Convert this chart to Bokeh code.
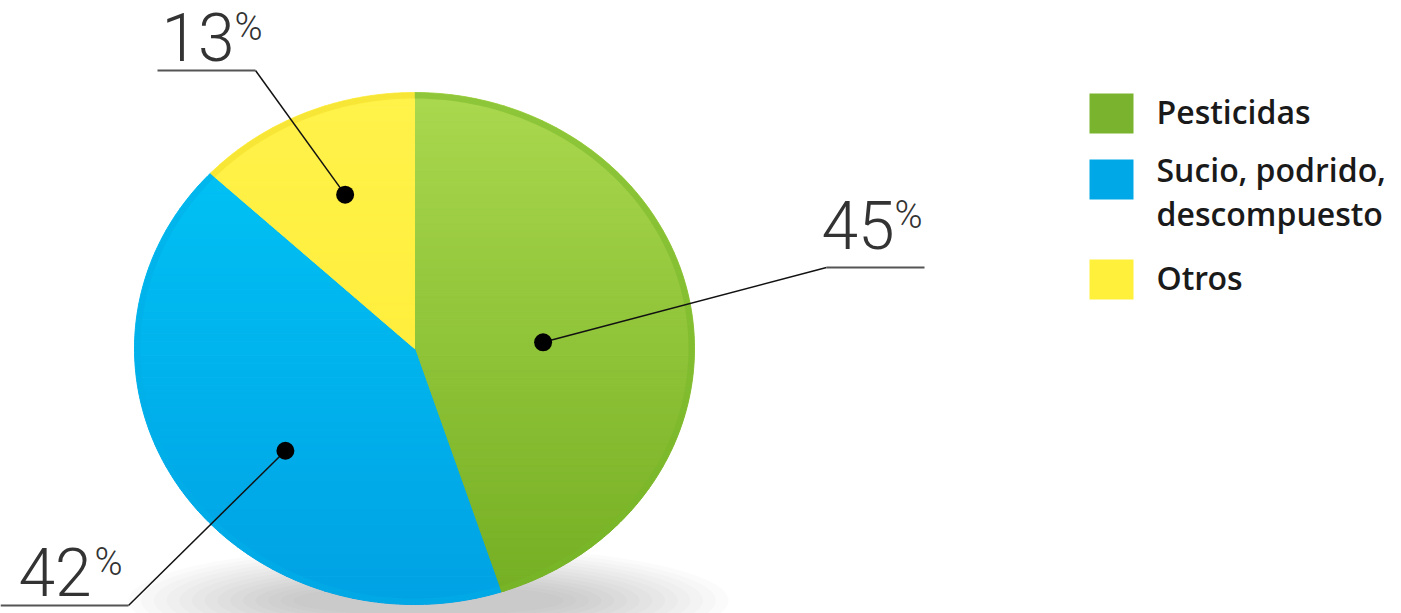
import numpy as np
from bokeh.plotting import figure
from bokeh.models import Range1d, ColumnDataSource
from bokeh.core.properties import value
from bokeh.embed import file_html
from bokeh.resources import INLINE

# ---------------- data ----------------
categories = ["Pesticidas", "Sucio, podrido, descompuesto", "Otros"]
legend_lines = [["Pesticidas"], ["Sucio, podrido,", "descompuesto"], ["Otros"]]
values = [45, 42, 13]
pct_labels = ["45", "42", "13"]

# ---------------- style ----------------
top_colors = ["#aad84e", "#00c6f6", "#fff24a"]
bot_colors = ["#74ae22", "#00a2e4", "#ffea30"]
rim_colors = ["#78b82a", "#00aee8", "#f2dc28"]
legend_colors = ["#7ab32e", "#00a8e8", "#fff03c"]

W, H = 1401, 613
CX, CY, RX, RY = 414, 348, 280, 256

p = figure(width=W, height=H, output_backend="svg", toolbar_location=None,
           x_range=Range1d(0, W), y_range=Range1d(H, 0), min_border=0)
p.axis.visible = False
p.grid.visible = False
p.outline_line_color = None
p.background_fill_color = "white"
p.border_fill_color = "white"

# ---------------- shadow ----------------
n_sh = 14
for k in range(n_sh):
    f = k / (n_sh - 1)
    p.ellipse(x=[CX + 14], y=[CY + RY - 4], width=600 - 330 * f, height=110 - 80 * f,
              fill_color="#444444", fill_alpha=0.022, line_color=None)


def hex2rgb(h):
    h = h.lstrip("#")
    return np.array([int(h[i:i + 2], 16) for i in (0, 2, 4)], dtype=float)


def rgb2hex(c):
    c = np.clip(np.round(c), 0, 255).astype(int)
    return "#%02x%02x%02x" % tuple(c)


def clip_band(poly, y0, y1):
    def clip(pts, keep, inter):
        out = []
        n = len(pts)
        for i in range(n):
            a = pts[i]
            b = pts[(i + 1) % n]
            ka, kb = keep(a), keep(b)
            if ka:
                out.append(a)
                if not kb:
                    out.append(inter(a, b))
            elif kb:
                out.append(inter(a, b))
        return out

    def inter_y(yc):
        def f(a, b):
            t = (yc - a[1]) / (b[1] - a[1])
            return (a[0] + t * (b[0] - a[0]), yc)
        return f

    pts = clip(poly, lambda q: q[1] >= y0, inter_y(y0))
    if not pts:
        return []
    pts = clip(pts, lambda q: q[1] <= y1, inter_y(y1))
    return pts


total = float(sum(values))
angles = [90.0]
for v in values:
    angles.append(angles[-1] - 360.0 * v / total)

xs_all, ys_all, cols_all = [], [], []
rim_xs, rim_ys = [], []
NB = 70
band_edges = np.linspace(CY - RY - 1, CY + RY + 1, NB + 1)
for i in range(len(values)):
    a0, a1 = angles[i], angles[i + 1]
    th = np.radians(np.linspace(a0, a1, 200))
    poly = [(CX, CY)] + [(CX + RX * np.cos(t), CY - RY * np.sin(t)) for t in th]
    c0, c1 = hex2rgb(top_colors[i]), hex2rgb(bot_colors[i])
    for b in range(NB):
        y0, y1 = band_edges[b], band_edges[b + 1]
        pts = clip_band(poly, y0, y1)
        if len(pts) < 3:
            continue
        f = ((y0 + y1) / 2 - (CY - RY)) / (2 * RY)
        xs_all.append([q[0] for q in pts])
        ys_all.append([q[1] for q in pts])
        cols_all.append(rgb2hex(c0 + (c1 - c0) * f))
    rim_xs.append(list(CX + (RX - 3) * np.cos(th)))
    rim_ys.append(list(CY - (RY - 3) * np.sin(th)))

p.patches(xs=xs_all, ys=ys_all, fill_color=cols_all, line_color=cols_all, line_width=1)
p.multi_line(xs=rim_xs, ys=rim_ys, line_color=rim_colors, line_width=6, line_alpha=0.55)

# ---------------- labels ----------------
# per-label layout: (radial fraction, angle shift, elbow x, elbow y, line end x,
#                    digits x, digits baseline y, % x, % baseline y)
layout = [
    (0.46, -6.0, 826, 267, 924, 821, 248, 894, 228),
    (0.61, 8.5, 128, 605, 0, 18, 595, 94, 575),
    (0.65, -1.0, 255, 70, 157, 161, 60, 234, 40),
]
dot_x, dot_y = [], []
lx, ly = [], []
for i in range(len(values)):
    mid = (angles[i] + angles[i + 1]) / 2 + layout[i][1]
    r = layout[i][0]
    dx = CX + r * RX * np.cos(np.radians(mid))
    dy = CY - r * RY * np.sin(np.radians(mid))
    dot_x.append(dx)
    dot_y.append(dy)
    lx.append([dx, layout[i][2]])
    ly.append([dy, layout[i][3]])

p.multi_line(xs=lx, ys=ly, line_color="#111111", line_width=1.5)
p.multi_line(xs=[[l[2], l[4]] for l in layout], ys=[[l[3], l[3]] for l in layout],
             line_color="#555555", line_width=2)
p.scatter(x=dot_x, y=dot_y, size=18, fill_color="black", line_color=None)

num_src = ColumnDataSource(dict(x=[l[5] for l in layout], y=[l[6] for l in layout], t=pct_labels))
p.text(x="x", y="y", text="t", source=num_src, text_font=value("Roboto Light"),
       text_font_size="66px", text_color="#333333", text_align="left", text_baseline="alphabetic",
       y_offset=-24)
pc_src = ColumnDataSource(dict(x=[l[7] for l in layout], y=[l[8] for l in layout], t=["%"] * 3))
p.text(x="x", y="y", text="t", source=pc_src, text_font=value("Roboto Light"),
       text_font_size="38px", text_color="#333333", text_align="left", text_baseline="alphabetic",
       y_offset=-14)

# ---------------- legend ----------------
sq_top = [93, 159, 259]
p.quad(left=[1089] * 3, right=[1133] * 3, top=sq_top, bottom=[t + 40 for t in sq_top],
       fill_color=legend_colors, line_color=None)
lt_x, lt_y, lt_t = [], [], []
base0 = [125, 183, 291]
for i, lines in enumerate(legend_lines):
    for j, s in enumerate(lines):
        lt_x.append(1156)
        lt_y.append(base0[i] + 44 * j)
        lt_t.append(s)
p.text(x=lt_x, y=lt_y, text=lt_t, text_font=value("Open Sans SemiBold"),
       text_font_size="32px", text_color="#1a1a1a", text_align="left", text_baseline="alphabetic",
       y_offset=-14)

open("out.html", "w").write(file_html(p, INLINE))
